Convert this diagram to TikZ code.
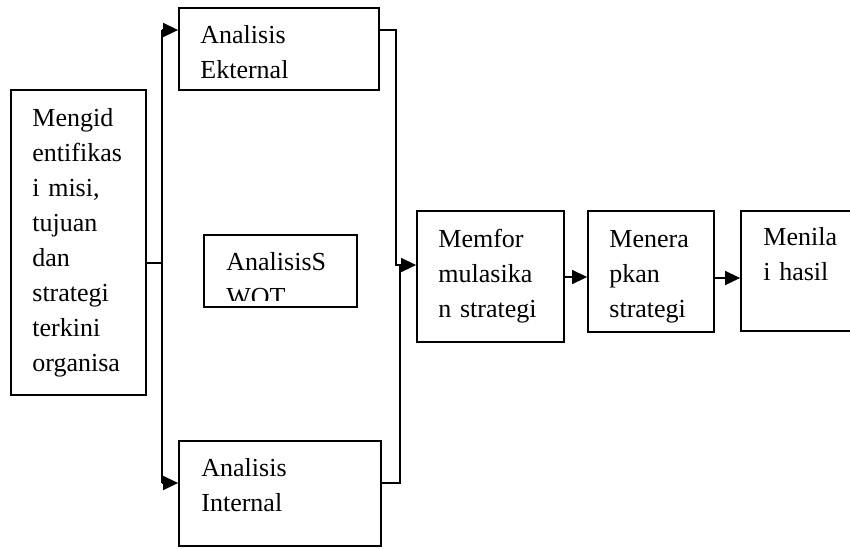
\documentclass[tikz,border=0pt]{standalone}
\usepackage{fontspec}
\setmainfont{Liberation Serif}
\usetikzlibrary{arrows.meta,fit}
\begin{document}
\begin{tikzpicture}[
  x=0.5pt, y=-0.5pt,
  box/.style={draw, line width=0.9pt, inner sep=0pt},
  label/.style={anchor=base west, inner sep=0pt, text width=120pt, align=left,
                font=\fontsize{13}{17.5}\selectfont},
  link/.style={draw, line width=0.75pt},
  arrowlink/.style={link, -{Triangle[length=7.5pt,width=7pt]}}
]
\useasboundingbox (0,0) rectangle (850,548);
\clip (0,0) rectangle (850,548);

% boxes
\node[box, fit={(11,90) (146,395)}] (org) {};
\node[box, fit={(179,8) (379,90)}] (ekst) {};
\node[box, fit={(204,235) (357,307)}] (swot) {};
\node[box, fit={(179,441) (381,546)}] (int) {};
\node[box, fit={(417,211) (564,342)}] (memfor) {};
\node[box, fit={(588,211) (714,332)}] (menera) {};
\node[box, fit={(741,211) (880,331)}] (menila) {};

% box texts
\node[label] (torg) at (32,126) {Mengid\\entifikas\\i misi,\\tujuan\\dan\\strategi\\terkini\\organisa};
\node[label] (tekst) at (200,43) {Analisis\\Ekternal};
\node[label] (tint) at (201,476) {Analisis\\Internal};
\begin{scope}
  \clip (204,235) rectangle (357,300);
  \node[label] (tswot) at (226,270) {AnalisisS\\WOT};
\end{scope}
\node[label] (tmemfor) at (438,247) {Memfor\\mulasika\\n strategi};
\node[label] (tmenera) at (609,247) {Menera\\pkan\\strategi};
\node[label] (tmenila) at (763,245) {Menila\\i hasil};

% branching from the first step
\coordinate (jm) at (162,263);
\coordinate (jt) at (162,30);
\coordinate (jb) at (162,483);
\draw[link] (org.east |- jm) -- (jm);
\draw[link] (jt) -- (jb);
\draw[arrowlink] (jt) -- (ekst.west |- jt);
\draw[arrowlink] (jb) -- (int.west |- jb);

% joining into strategy formulation
\coordinate (rt) at (396,30);
\coordinate (rm) at (396,265);
\coordinate (rb) at (400,483);
\coordinate (rm2) at (400,265);
\draw[arrowlink] (ekst.east |- rt) -- (rt) -- (rm) -- (memfor.west |- rm);
\draw[link] (int.east |- rb) -- (rb) -- (rm2);

% sequence of steps
\coordinate (a1) at (576,277);
\coordinate (a2) at (727,278);
\draw[arrowlink] (memfor.east |- a1) -- (menera.west |- a1);
\draw[arrowlink] (menera.east |- a2) -- (menila.west |- a2);
\end{tikzpicture}
\end{document}
